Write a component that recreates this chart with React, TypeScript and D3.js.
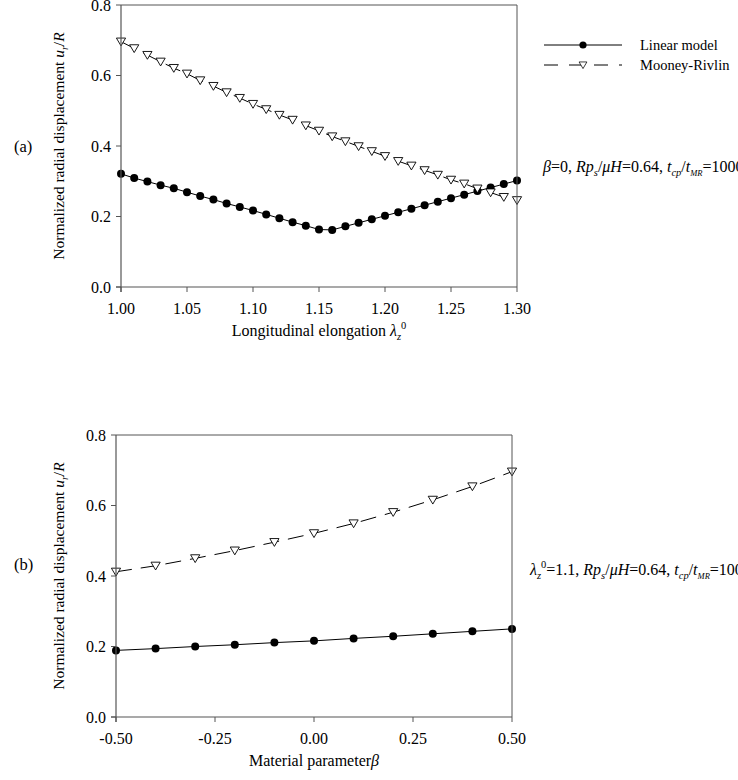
import React from 'react';
import * as d3 from 'd3';

const lambdaZ = [1.00, 1.01, 1.02, 1.03, 1.04, 1.05, 1.06, 1.07, 1.08, 1.09, 1.10, 1.11, 1.12, 1.13, 1.14, 1.15, 1.16, 1.17, 1.18, 1.19, 1.20, 1.21, 1.22, 1.23, 1.24, 1.25, 1.26, 1.27, 1.28, 1.29, 1.30];
const linearA = [0.321, 0.309, 0.299, 0.289, 0.280, 0.269, 0.258, 0.248, 0.237, 0.227, 0.217, 0.206, 0.195, 0.184, 0.174, 0.163, 0.162, 0.172, 0.182, 0.192, 0.202, 0.212, 0.222, 0.232, 0.242, 0.252, 0.262, 0.272, 0.282, 0.292, 0.302];
const mooneyA = [0.696, 0.677, 0.658, 0.639, 0.621, 0.605, 0.586, 0.570, 0.552, 0.536, 0.519, 0.504, 0.488, 0.474, 0.458, 0.443, 0.427, 0.413, 0.399, 0.385, 0.371, 0.357, 0.344, 0.331, 0.318, 0.304, 0.293, 0.279, 0.268, 0.255, 0.246];

const betaVals = [-0.5, -0.4, -0.3, -0.2, -0.1, 0.0, 0.1, 0.2, 0.3, 0.4, 0.5];
const linearB = [0.189, 0.194, 0.200, 0.205, 0.211, 0.216, 0.223, 0.229, 0.236, 0.243, 0.250];
const mooneyB = [0.412, 0.429, 0.450, 0.472, 0.496, 0.521, 0.549, 0.581, 0.616, 0.654, 0.696];

const xTicksA = [1.00, 1.05, 1.10, 1.15, 1.20, 1.25, 1.30];
const xTicksB = [-0.5, -0.25, 0.0, 0.25, 0.5];
const yTicks = [0.0, 0.2, 0.4, 0.6, 0.8];

const seriesNames = ['Linear model', 'Mooney-Rivlin'];

const FONT = '"Liberation Serif", "Times New Roman", serif';
const AXIS = '#555';
const DASH = '16,9';

const triPath = 'M-4.6,-3.6L4.6,-3.6L0,4.2Z';

function Panel({ xs, lin, moo, xDomain, xTicks, left, right, top, bottom, xLabel }) {
  const x = d3.scaleLinear().domain(xDomain).range([left, right]);
  const y = d3.scaleLinear().domain([0, 0.8]).range([bottom, top]);
  const line = d3.line<number>().x((_, i) => x(xs[i])).y((d) => y(d));
  return (
    <g>
      <path d={line(lin) || ''} fill="none" stroke="#000" strokeWidth={1} />
      <path d={line(moo) || ''} fill="none" stroke="#000" strokeWidth={1} strokeDasharray={DASH} />
      {lin.map((d, i) => (
        <circle key={'c' + i} cx={x(xs[i])} cy={y(d)} r={4} fill="#000" />
      ))}
      {moo.map((d, i) => (
        <path key={'t' + i} d={triPath} transform={`translate(${x(xs[i])},${y(d)})`} fill="#fff" stroke="#000" strokeWidth={0.9} />
      ))}
      {/* frame */}
      <line x1={left} x2={right} y1={top} y2={top} stroke={AXIS} strokeWidth={1} />
      <line x1={right} x2={right} y1={top} y2={bottom} stroke={AXIS} strokeWidth={1} />
      <line x1={left} x2={left} y1={top} y2={bottom + 5} stroke={AXIS} strokeWidth={1.2} />
      <line x1={left - 5} x2={right} y1={bottom} y2={bottom} stroke={AXIS} strokeWidth={1.2} />
      {yTicks.map((t) => (
        <g key={'y' + t}>
          <line x1={left - 5} x2={left} y1={y(t)} y2={y(t)} stroke={AXIS} strokeWidth={1} />
          <text x={left - 10} y={y(t)} dy="0.35em" textAnchor="end" fontSize={16}>{d3.format('.1f')(t)}</text>
        </g>
      ))}
      {xTicks.map((t) => (
        <g key={'x' + t}>
          <line x1={x(t)} x2={x(t)} y1={bottom} y2={bottom + 5} stroke={AXIS} strokeWidth={1} />
          <text x={x(t)} y={bottom + 27} textAnchor="middle" fontSize={16}>{d3.format('.2f')(t).replace('−', '-')}</text>
        </g>
      ))}
      <text transform={`translate(64,${(top + bottom) / 2}) rotate(-90)`} textAnchor="middle" fontSize={15.5}>
        Normalized radial displacement <tspan fontStyle="italic">u</tspan>
        <tspan fontStyle="italic" fontSize={10} dy={4}>r</tspan>
        <tspan dy={-4}>/</tspan>
        <tspan fontStyle="italic">R</tspan>
      </text>
      {xLabel(x, bottom)}
    </g>
  );
}

export default function App() {
  return (
    <svg width={738} height={780} style={{ position: 'absolute', left: 0, top: 0, fontFamily: FONT }}>
      <rect width={738} height={780} fill="#fff" />
      <Panel
        xs={lambdaZ}
        lin={linearA}
        moo={mooneyA}
        xDomain={[1.0, 1.3]}
        xTicks={xTicksA}
        left={121}
        right={517}
        top={5}
        bottom={287}
        xLabel={(x, b) => (
          <text x={(x(1.0) + x(1.3)) / 2} y={b + 49} textAnchor="middle" fontSize={16}>
            Longitudinal elongation <tspan fontStyle="italic">λ</tspan>
            <tspan fontStyle="italic" fontSize={10.5} dy={4}>z</tspan>
            <tspan fontSize={10.5} dy={-11}>0</tspan>
          </text>
        )}
      />
      <Panel
        xs={betaVals}
        lin={linearB}
        moo={mooneyB}
        xDomain={[-0.5, 0.5]}
        xTicks={xTicksB}
        left={116}
        right={512}
        top={435}
        bottom={717}
        xLabel={(x, b) => (
          <text x={(x(-0.5) + x(0.5)) / 2} y={b + 49} textAnchor="middle" fontSize={16}>
            Material parameter<tspan fontStyle="italic">β</tspan>
          </text>
        )}
      />
      {/* legend */}
      <g>
        <line x1={544} x2={622} y1={45} y2={45} stroke="#000" strokeWidth={1} />
        <circle cx={583} cy={45} r={3.6} fill="#000" />
        <text x={640} y={45} dy="0.35em" fontSize={14.5}>{seriesNames[0]}</text>
        <line x1={544} x2={622} y1={65} y2={65} stroke="#000" strokeWidth={1} strokeDasharray="14,11" strokeDashoffset={0} />
        <path d={triPath} transform="translate(583,65) scale(0.85)" fill="#fff" stroke="#000" strokeWidth={0.9} />
        <text x={640} y={65} dy="0.35em" fontSize={14.5}>{seriesNames[1]}</text>
      </g>
      {/* panel labels */}
      <text x={14} y={146} dy="0.35em" fontSize={16.5}>(a)</text>
      <text x={14} y={564} dy="0.35em" fontSize={16.5}>(b)</text>
      {/* annotations */}
      <text x={543} y={172} fontSize={16}>
        <tspan fontStyle="italic">β</tspan>=0, <tspan fontStyle="italic">Rp</tspan>
        <tspan fontStyle="italic" fontSize={10.5} dy={4}>s</tspan>
        <tspan dy={-4}>/</tspan><tspan fontStyle="italic">μH</tspan>=0.64, <tspan fontStyle="italic">t</tspan>
        <tspan fontStyle="italic" fontSize={10.5} dy={4}>cp</tspan>
        <tspan dy={-4}>/</tspan><tspan fontStyle="italic">t</tspan>
        <tspan fontStyle="italic" fontSize={8.5} dy={4}>MR</tspan>
        <tspan dy={-4}>=1000</tspan>
      </text>
      <text x={530} y={575} fontSize={16}>
        <tspan fontStyle="italic">λ</tspan>
        <tspan fontStyle="italic" fontSize={10.5} dy={4}>z</tspan>
        <tspan fontSize={10.5} dy={-11}>0</tspan>
        <tspan dy={7}>=1.1, </tspan><tspan fontStyle="italic">Rp</tspan>
        <tspan fontStyle="italic" fontSize={10.5} dy={4}>s</tspan>
        <tspan dy={-4}>/</tspan><tspan fontStyle="italic">μH</tspan>=0.64, <tspan fontStyle="italic">t</tspan>
        <tspan fontStyle="italic" fontSize={10.5} dy={4}>cp</tspan>
        <tspan dy={-4}>/</tspan><tspan fontStyle="italic">t</tspan>
        <tspan fontStyle="italic" fontSize={8.5} dy={4}>MR</tspan>
        <tspan dy={-4}>=1000</tspan>
      </text>
    </svg>
  );
}
